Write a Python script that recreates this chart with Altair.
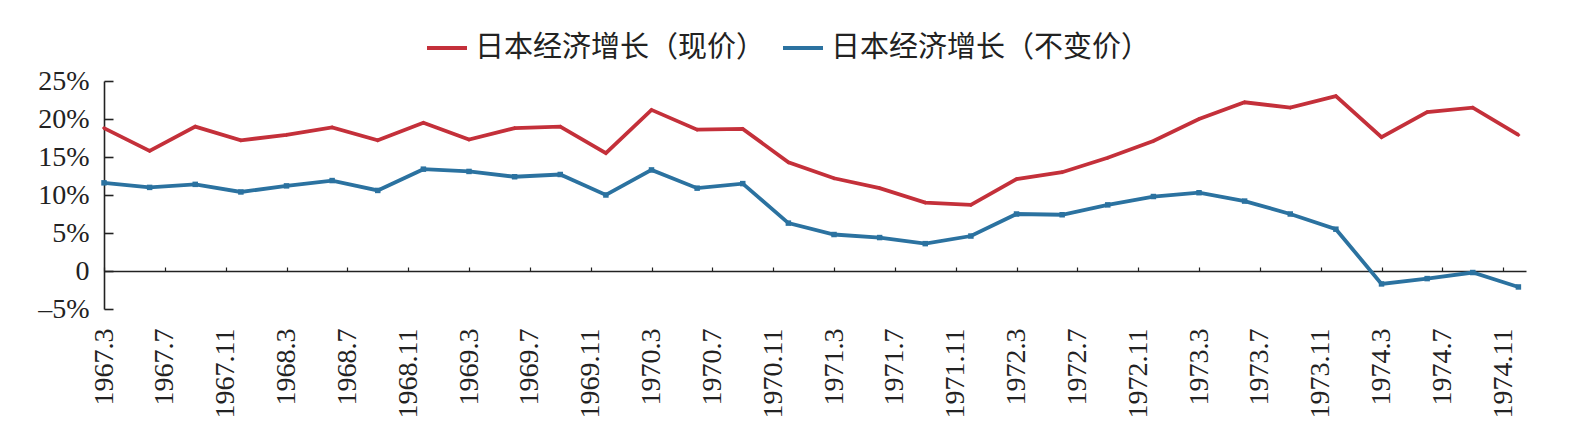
import altair as alt
import pandas as pd

# Quarterly observations, 1967.3 … 1974.12
years = list(range(1967, 1975))
quarter_months = [3, 6, 9, 12]
periods = [(y, m) for y in years for m in quarter_months]

nominal = [18.8, 15.8, 19.0, 17.2, 17.9, 18.9, 17.2, 19.5,
           17.3, 18.8, 19.0, 15.5, 21.2, 18.6, 18.7, 14.3,
           12.2, 10.9, 9.0, 8.7, 12.1, 13.0, 14.9, 17.1,
           20.0, 22.2, 21.5, 23.0, 17.6, 20.9, 21.5, 17.9]
real = [11.6, 11.0, 11.4, 10.4, 11.2, 11.9, 10.6, 13.4,
        13.1, 12.4, 12.7, 10.0, 13.3, 10.9, 11.5, 6.3,
        4.8, 4.4, 3.6, 4.6, 7.5, 7.4, 8.7, 9.8,
        10.3, 9.2, 7.5, 5.5, -1.7, -1.0, -0.2, -2.1]

series_names = ["日本经济增长（现价）", "日本经济增长（不变价）"]
series_colors = ["#c4303a", "#2b72a0"]
series_shapes = ["diamond", "square"]
series_sizes = [18, 30]

tick_months = list(range(0, 93, 4))          # 1967.3, 1967.7, ... 1974.11
y_ticks = [-5, 0, 5, 10, 15, 20, 25]

rows = []
for (y, m), a, b in zip(periods, nominal, real):
    idx = (y - 1967) * 12 + (m - 3)
    rows.append({"month": idx, "value": a, "series": series_names[0]})
    rows.append({"month": idx, "value": b, "series": series_names[1]})
df = pd.DataFrame(rows)

W, H = 1422, 228
XDOM = [0, 93.5]
YDOM = [-5, 25]

x_label_expr = ("toString(1967 + floor((datum.value + 2) / 12)) + '.' + "
                "toString(((datum.value + 2) % 12) + 1)")
y_label_expr = ("datum.value == 0 ? '0' : (datum.value < 0 ? '–' + toString(abs(datum.value)) + '%' "
                ": toString(datum.value) + '%')")

xs = alt.Scale(domain=XDOM, nice=False, zero=False)
ys = alt.Scale(domain=YDOM, nice=False, zero=False)

color = alt.Color(
    "series:N",
    scale=alt.Scale(domain=series_names, range=series_colors),
    legend=alt.Legend(
        title=None, orient="none", direction="horizontal",
        legendX=321, legendY=-55,
        symbolType="stroke", symbolSize=1600, symbolStrokeWidth=3.8,
        labelFont="Noto Sans CJK SC", labelFontSize=29, labelColor="#222222",
        labelOffset=6, columnPadding=9, labelLimit=600, padding=0,
    ),
)

base_x = alt.X(
    "month:Q", scale=xs,
    axis=alt.Axis(
        values=tick_months, labelExpr=x_label_expr, labelAngle=270,
        domain=False, ticks=False, grid=False, title=None,
        labelFont="Liberation Serif", labelFontSize=28, labelColor="#222222",
        labelPadding=19, labelOverlap=False,
    ),
)
base_y = alt.Y(
    "value:Q", scale=ys,
    axis=alt.Axis(
        values=y_ticks, labelExpr=y_label_expr, domain=True, domainColor="#222222",
        domainWidth=1.6, ticks=False, grid=False, title=None,
        labelFont="Liberation Serif", labelFontSize=28, labelColor="#222222",
        labelPadding=15, labelOverlap=False,
    ),
)

lines = alt.Chart(df).mark_line(strokeWidth=3.8).encode(x=base_x, y=base_y, color=color)

point_layers = []
for name, col, shp, sz in zip(series_names, series_colors, series_shapes, series_sizes):
    point_layers.append(
        alt.Chart(df).transform_filter(alt.datum.series == name)
        .mark_point(filled=True, shape=shp, size=sz, color=col, opacity=1)
        .encode(x=alt.X("month:Q", scale=xs, axis=None),
                y=alt.Y("value:Q", scale=ys, axis=None))
    )

axis_layer = alt.Chart(df).mark_line(opacity=0).encode(
    x=alt.X("month:Q", scale=xs,
            axis=alt.Axis(orient="top", offset=-round(H * 25 / 30), values=tick_months,
                          labels=False, domain=True, domainColor="#222222", domainWidth=1.6,
                          ticks=True, tickSize=4, tickColor="#222222", tickWidth=1.2,
                          grid=False, title=None)),
    y=alt.Y("value:Q", scale=ys,
            axis=alt.Axis(orient="right", offset=-W, values=y_ticks,
                          labels=False, domain=False, ticks=True, tickSize=9,
                          tickColor="#222222", tickWidth=1.6, grid=False, title=None)),
    detail="series:N",
)

chart = alt.layer(lines, *point_layers, axis_layer).resolve_scale(
    x="independent", y="independent"
).properties(
    width=W, height=H,
    autosize=alt.AutoSizeParams(type="none"),
    padding={"left": 104, "top": 81, "right": 60, "bottom": 129},
    background="white",
).configure_view(stroke=None).configure_axis(labelOverlap=False)

chart.save("out.html", embed_options={"renderer": "svg", "actions": False})
